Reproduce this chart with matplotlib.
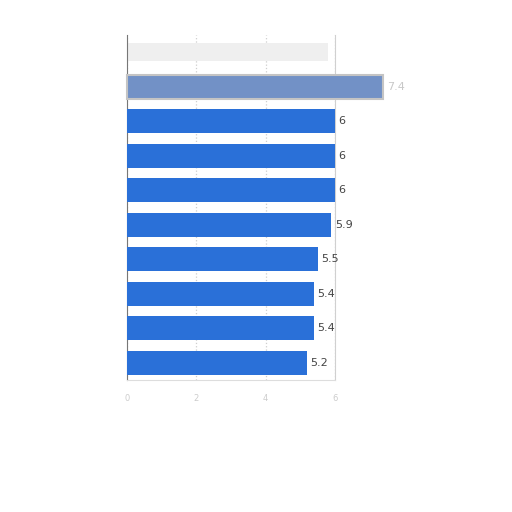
import numpy as np
import matplotlib
matplotlib.use('Agg')
import matplotlib.pyplot as plt

# values read top to bottom; the top slot is blurred out in the source
values = [7.4, 6, 6, 6, 5.9, 5.5, 5.4, 5.4, 5.2]
labels = ['7.4', '6', '6', '6', '5.9', '5.5', '5.4', '5.4', '5.2']
ticks = [0, 2, 4, 6]

fig = plt.figure(figsize=(5.12, 5.12), dpi=100)
ax = fig.add_axes([0.248, 0.258, 0.406, 0.674])

n = len(values) + 1
pos = np.arange(1, n)[::-1] - 0.5  # leave the top slot empty

colors = ['#7291c6'] + ['#2a70d8'] * (len(values) - 1)
bars = ax.barh(pos, values, height=0.7, color=colors, clip_on=False, zorder=3)
bars[0].set_edgecolor('#c4c4c4')
bars[0].set_linewidth(1.5)

for b, lab, i in zip(bars, labels, range(len(values))):
    ax.text(b.get_width() + 0.1, b.get_y() + b.get_height() / 2, lab,
            va='center', ha='left', fontsize=8,
            color='#c8c8c8' if i == 0 else '#444444')

# blurred header strip at the top
ax.barh(n - 0.5, 5.8, height=0.5, color='#efefef', zorder=2)

ax.set_xlim(0, 6)
ax.set_ylim(0, n)
ax.set_xticks(ticks)
ax.set_xticklabels([str(t) for t in ticks], fontsize=6, color='#cccccc')
ax.set_yticks([])
ax.tick_params(axis='x', length=0, pad=10)

ax.grid(axis='x', color='#cfcfcf', linestyle=':', linewidth=0.9, zorder=0)
for s in ['top']:
    ax.spines[s].set_visible(False)
ax.spines['right'].set_color('#d0d0d0')
ax.spines['left'].set_color('#777777')
ax.spines['bottom'].set_color('#dddddd')

plt.savefig('out.png', dpi=100)
